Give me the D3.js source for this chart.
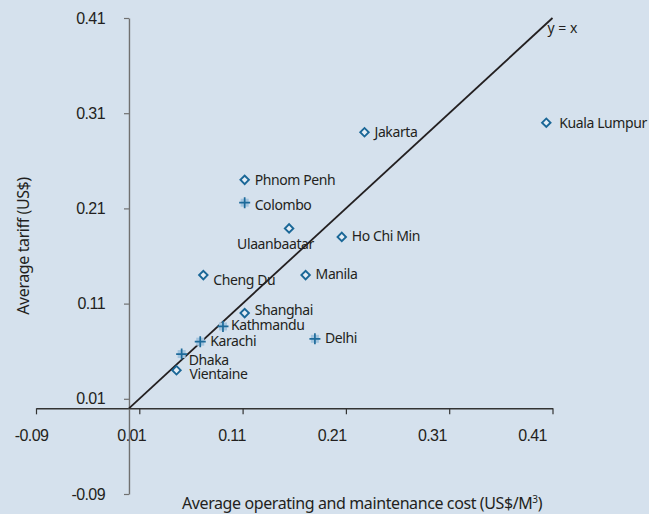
<!DOCTYPE html>
<html>
<head>
<meta charset="utf-8">
<script src="https://cdn.jsdelivr.net/npm/d3@7"></script>
<style>
  body { margin: 0; background: #d5e1ed; }
  svg { display: block; font-family: "Noto Sans", sans-serif; }
  .axis text { font-size: 16px; fill: #231f20; letter-spacing: -0.6px; }
</style>
</head>
<body>
<svg width="649" height="514"></svg>
<script>
// values
var cities = ["Kuala Lumpur", "Jakarta", "Ho Chi Min", "Phnom Penh", "Colombo", "Ulaanbaatar",
  "Cheng Du", "Manila", "Shanghai", "Kathmandu", "Karachi", "Delhi", "Dhaka", "Vientaine"];
var cost = [0.404, 0.228, 0.206, 0.112, 0.112, 0.155, 0.072, 0.171, 0.112, 0.091, 0.069, 0.180, 0.051, 0.046];
var tariff = [0.300, 0.290, 0.180, 0.240, 0.216, 0.189, 0.140, 0.140, 0.100, 0.086, 0.070, 0.073, 0.057, 0.040];
var group = ["a", "a", "a", "a", "b", "a", "a", "a", "a", "b", "b", "b", "b", "a"];
var tickValues = [-0.09, 0.01, 0.11, 0.21, 0.31, 0.41];

// label placement relative to marker (dx, dy)
var labelPos = {
  "Kuala Lumpur": [13, 5], "Jakarta": [10, 5], "Ho Chi Min": [10, 4], "Phnom Penh": [10, 5],
  "Colombo": [10, 7], "Ulaanbaatar": [-52, 21], "Cheng Du": [10, 10], "Manila": [10, 4],
  "Shanghai": [10, 2], "Kathmandu": [8, 4], "Karachi": [10, 4], "Delhi": [10, 4],
  "Dhaka": [7, 11], "Vientaine": [13, 9]
};

var data = cities.map(function(c, i) {
  return {name: c, x: cost[i], y: tariff[i], g: group[i]};
});

var svg = d3.select("svg");

var x = d3.scaleLinear().domain([-0.09, 0.41]).range([36, 552.5]);
var y = d3.scaleLinear().domain([-0.09, 0.41]).range([494, 18]);
// tick labels in the original sit on a slightly tighter spacing than the ticks
var xLabel = d3.scaleLinear().domain([-0.09, 0.41]).range([31, 532]);

var fmt = function(d) { return d3.format(".2f")(d).replace("−", "-"); };

// x axis at y = 0
var gx = svg.append("g")
    .attr("class", "axis x")
    .attr("transform", "translate(0," + y(0) + ")")
    .call(d3.axisBottom(x).tickValues(tickValues).tickSizeInner(6).tickSizeOuter(0).tickPadding(15).tickFormat(fmt));
gx.select(".domain").attr("stroke", "#333").attr("stroke-width", 1.4);
gx.selectAll(".tick line").attr("stroke", "#333").attr("stroke-width", 1.2);
gx.selectAll(".tick text").attr("x", function(d) { return xLabel(d) - x(d); });

// y axis at x = 0
var gy = svg.append("g")
    .attr("class", "axis y")
    .attr("transform", "translate(" + x(0) + ",0)")
    .call(d3.axisLeft(y).tickValues(tickValues).tickSizeInner(5).tickSizeOuter(0).tickPadding(19).tickFormat(fmt));
gy.select(".domain").attr("stroke", "#707070").attr("stroke-width", 1.4);
gy.selectAll(".tick line").attr("stroke", "#707070").attr("stroke-width", 1.2);

// y = x line
svg.append("line")
    .attr("x1", x(0)).attr("y1", y(0))
    .attr("x2", x(0.41)).attr("y2", y(0.41))
    .attr("stroke", "#231f20").attr("stroke-width", 1.8);
svg.append("text")
    .attr("x", x(0.41) - 5).attr("y", y(0.41) + 15)
    .attr("font-size", 14).attr("fill", "#231f20")
    .text("y = x");

// markers
var pts = svg.append("g").selectAll("g")
    .data(data).enter().append("g")
    .attr("transform", function(d) { return "translate(" + x(d.x) + "," + y(d.y) + ")"; });

pts.filter(function(d) { return d.g === "a"; })
  .append("rect")
    .attr("x", -3).attr("y", -3).attr("width", 6).attr("height", 6)
    .attr("transform", "rotate(45)")
    .attr("fill", "#e4edf5").attr("stroke", "#1a6797").attr("stroke-width", 1.9);

var plus = pts.filter(function(d) { return d.g === "b"; });
plus.append("rect")
    .attr("x", -4).attr("y", -4).attr("width", 8).attr("height", 8)
    .attr("fill", "#a3c4de");
plus.append("path")
    .attr("d", "M-5.5,0H5.5M0,-5.5V5.5")
    .attr("stroke", "#1d6a9a").attr("stroke-width", 1.7);

pts.append("text")
    .attr("x", function(d) { return labelPos[d.name][0]; })
    .attr("y", function(d) { return labelPos[d.name][1]; })
    .attr("font-size", 14).attr("letter-spacing", -0.4).attr("fill", "#231f20")
    .text(function(d) { return d.name; });

// axis titles
var xt = svg.append("text")
    .attr("x", 362).attr("y", 509)
    .attr("text-anchor", "middle")
    .attr("font-size", 16).attr("letter-spacing", -0.4).attr("fill", "#231f20");
xt.append("tspan").text("Average operating and maintenance cost (US$/M");
xt.append("tspan").attr("dy", -6).attr("font-size", 10).text("3");
xt.append("tspan").attr("dy", 6).text(")");

svg.append("text")
    .attr("transform", "translate(29,246) rotate(-90)")
    .attr("text-anchor", "middle")
    .attr("font-size", 16).attr("letter-spacing", -0.4).attr("fill", "#231f20")
    .text("Average tariff (US$)");
</script>
</body>
</html>
